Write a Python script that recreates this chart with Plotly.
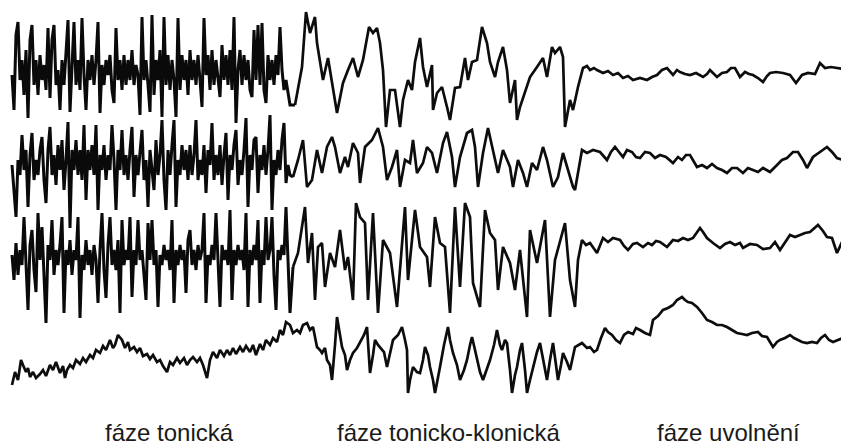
import plotly.graph_objects as go

# ---- sample positions (time axis, px-like units) ----
tonic_x = list(range(12, 292, 2))

# ---- trace 1 (top channel) ----
t1_tonic_y = [75,110,35,22,80,60,95,50,118,40,25,85,60,95,55,80,65,90,28,98,
              40,25,85,70,110,60,85,50,20,112,60,22,85,60,90,18,75,110,60,80,
              55,85,60,22,113,65,85,60,75,55,90,103,28,80,60,90,55,85,60,80,
              50,85,65,75,115,17,80,60,85,112,15,95,60,80,50,117,17,85,55,90,
              60,80,117,18,90,55,80,60,95,50,80,60,85,55,80,107,18,75,55,90,
              50,85,60,80,97,45,80,55,85,50,90,17,123,70,50,85,55,80,60,90,
              97,30,80,25,85,23,90,103,55,80,60,85,55,75,27,70,90,80,95,105]
t1_rest_x = [295,302,306,310,315,317,323,328,337,343,348,353,358,363,369,373,377,380,383,386,
             390,395,400,403,408,412,415,420,423,427,432,433,437,442,447,450,455,460,465,468,
             472,477,482,487,490,495,498,503,507,510,515,517,520,525,530,537,543,547,552,555,
             560,563,565,570,573,578,583,587,590,594,597,603,608,613,618,623,628,633,640,647,
             652,657,662,667,673,677,680,685,690,696,703,707,710,717,722,727,731,735,740,745,
             749,753,758,763,767,770,776,783,790,796,802,808,815,820,825,831,837,843,849]
t1_rest_y = [105,67,12,33,17,43,80,58,113,83,70,58,77,60,27,33,28,43,70,127,
             90,90,127,100,80,90,62,38,67,87,65,110,93,87,107,120,88,87,58,80,
             62,60,27,43,62,77,62,47,70,103,80,120,107,93,77,67,58,77,47,53,
             47,57,127,100,110,87,68,66,70,68,70,73,71,75,73,78,76,80,78,80,
             77,75,70,68,75,70,72,74,75,73,77,74,70,77,73,72,68,68,77,72,
             74,75,78,82,76,73,72,73,75,83,75,73,74,63,68,67,68,69,69]

# ---- trace 2 ----
t2_tonic_y = [165,195,217,160,175,135,170,150,207,155,133,180,160,175,150,137,180,203,150,127,
              175,155,185,145,170,140,190,160,122,228,150,170,140,175,150,180,125,200,150,170,
              145,175,125,210,155,170,145,180,155,170,125,160,210,150,170,130,175,155,180,150,
              127,197,155,175,150,130,180,160,207,150,170,190,140,175,155,120,180,210,150,175,
              145,120,207,160,175,145,170,150,180,145,175,155,120,180,160,175,145,193,150,165,
              123,180,155,175,145,185,155,133,200,155,170,145,130,185,160,175,150,118,207,155,
              170,140,137,193,155,170,145,175,150,115,210,160,175,150,170,140,123,183,165,175]
t2_rest_x = [293,298,303,307,312,317,322,327,332,335,340,345,348,353,358,360,365,372,378,383,
             387,392,397,400,405,410,413,417,423,427,432,437,443,447,452,455,460,467,472,475,
             478,483,488,493,498,503,510,513,518,523,527,532,537,543,547,553,558,563,568,573,
             575,578,582,587,593,600,607,611,615,619,623,627,632,636,640,645,650,655,660,666,
             673,678,682,686,690,697,702,707,712,717,722,727,732,737,743,748,753,758,763,770,
             777,782,787,793,798,803,807,813,820,827,832,837,843,849]
t2_rest_y = [177,160,140,187,180,150,173,147,137,147,173,157,167,143,153,183,147,140,128,147,
             180,167,150,187,160,163,140,173,163,147,153,173,143,132,157,187,157,133,130,147,
             187,153,128,150,173,150,167,187,160,173,187,163,170,147,160,187,177,153,170,187,
             190,173,150,153,150,152,160,152,147,152,157,150,152,157,158,152,153,158,155,157,
             163,157,160,155,155,167,165,168,164,168,170,173,168,168,173,168,170,172,168,172,
             165,160,158,152,152,160,168,157,152,147,152,158,160,163]

# ---- trace 3 ----
t3_tonic_y = [255,280,243,275,250,265,217,270,310,245,230,270,292,213,260,227,270,323,245,260,
              220,275,250,265,245,217,313,250,265,240,275,250,260,217,318,255,270,240,265,250,
              275,245,260,303,250,213,270,298,245,217,265,250,270,240,313,220,265,250,260,217,
              297,250,265,220,260,250,275,300,223,260,220,265,250,307,255,265,245,260,250,270,
              220,303,250,265,245,260,250,293,240,230,265,250,270,245,260,250,213,303,255,265,
              245,260,213,270,307,245,260,250,265,210,300,250,265,245,260,250,270,213,307,250,
              265,245,260,220,303,250,265,217,260,250,217,275,310,250,260,245,255,207,270,313]
t3_rest_x = [293,298,305,308,312,315,318,322,325,330,335,340,345,348,353,356,360,365,368,373,
             378,383,390,397,405,408,415,420,427,430,435,440,445,450,455,460,465,470,473,480,
             485,490,495,498,503,510,515,520,527,530,537,545,550,555,565,570,575,578,582,586,
             590,597,603,608,613,620,624,628,633,637,643,648,652,656,660,667,673,678,683,688,
             693,700,703,707,713,720,725,730,735,740,743,750,757,763,770,775,780,785,790,795,
             800,805,810,818,823,827,832,837,843,849]
t3_rest_y = [267,253,207,263,233,300,247,243,287,253,267,230,270,257,300,203,217,223,300,213,
             313,240,253,307,207,280,210,247,257,287,217,243,247,313,207,287,203,217,283,307,
             210,233,240,290,247,263,290,250,317,230,263,220,317,260,223,280,307,260,240,245,
             243,253,238,242,238,240,246,250,244,243,247,243,245,241,242,247,240,241,238,240,
             238,228,232,238,243,248,244,242,245,243,248,244,245,249,248,242,250,243,235,237,
             235,233,232,225,231,237,238,253,240,237]

# ---- trace 4 (bottom channel) ----
t4_x = [12,15,18,21,23,26,28,30,33,36,40,43,46,50,53,56,60,63,65,67,
        70,73,76,80,83,86,90,93,96,100,103,106,110,113,115,118,122,125,128,130,
        134,137,140,143,147,150,153,157,160,163,167,170,173,177,180,184,187,190,193,197,
        200,203,207,210,213,217,220,224,227,230,233,236,240,243,246,250,253,256,260,263,
        266,270,273,277,280,283,286,290,293,297,300,303,307,310,313,317,320,322,325,327,
        330,332,335,337,340,342,345,347,350,353,357,360,364,367,370,373,375,378,380,384,
        387,390,393,398,402,405,407,408,410,413,417,420,423,425,428,430,433,435,438,440,
        444,448,450,453,457,460,464,467,470,472,475,477,480,483,487,490,494,497,500,502,
        505,507,510,512,515,517,520,522,525,527,530,533,537,540,544,547,550,553,556,558,
        561,563,567,570,575,582,587,590,594,597,601,605,608,612,616,620,624,628,633,636,
        640,645,650,653,658,663,668,673,677,682,685,688,692,697,702,707,712,717,722,727,
        732,737,742,747,752,758,762,767,770,773,777,780,785,790,794,798,802,807,812,817,
        821,825,829,833,838,843,846,849]
t4_y = [385,372,380,360,365,372,368,377,372,378,374,370,376,365,370,362,373,366,378,370,
        365,368,360,364,358,362,355,358,350,353,346,350,340,348,345,335,340,348,342,350,
        347,352,348,356,354,359,355,362,360,366,372,362,365,358,363,358,365,360,357,362,
        358,365,378,360,352,358,350,356,350,355,348,354,347,352,346,352,345,355,344,350,
        340,345,338,342,330,335,322,325,333,330,333,325,323,330,327,347,350,353,348,360,
        365,380,345,317,335,347,355,370,360,353,348,343,335,327,373,355,340,345,347,352,
        367,355,340,335,327,340,350,393,380,367,372,373,360,347,355,367,380,393,375,367,
        345,327,340,353,365,380,370,360,345,337,350,360,372,380,368,360,345,330,345,350,
        340,343,370,393,375,367,350,343,370,393,380,367,352,343,365,380,360,343,365,380,
        365,353,362,370,347,343,348,347,352,350,338,328,332,335,340,343,335,332,334,328,
        330,333,335,320,316,310,308,305,300,297,300,302,303,307,313,320,322,325,325,327,
        330,333,334,335,333,332,336,337,342,347,342,340,338,335,338,340,342,343,342,343,
        338,335,340,342,340,338,335,333]

# ---- phase labels ----
phase_labels = ["fáze tonická", "fáze tonicko-klonická", "fáze uvolnění"]
phase_label_x = [169, 448, 728]
label_y = 432

# page body has an 8px margin: shift the axis ranges so data units == window pixels
PAGE_OFFSET = 8

fig = go.Figure()
channels = [
    (t1_tonic_y, t1_rest_x, t1_rest_y),
    (t2_tonic_y, t2_rest_x, t2_rest_y),
    (t3_tonic_y, t3_rest_x, t3_rest_y),
]
for ty, rx, ry in channels:
    # dense tonic part (slightly heavier ink), joined to the rest
    fig.add_trace(go.Scatter(x=tonic_x + rx[:1], y=ty + ry[:1], mode="lines",
                             line=dict(color="#0a0a0a", width=3.0),
                             hoverinfo="skip", showlegend=False))
    fig.add_trace(go.Scatter(x=rx, y=ry, mode="lines",
                             line=dict(color="#0d0d0d", width=2.7),
                             hoverinfo="skip", showlegend=False))
fig.add_trace(go.Scatter(x=t4_x, y=t4_y, mode="lines",
                         line=dict(color="#0d0d0d", width=2.7),
                         hoverinfo="skip", showlegend=False))

for txt, lx in zip(phase_labels, phase_label_x):
    fig.add_annotation(x=lx, y=label_y, text=txt, showarrow=False,
                       xanchor="center", yanchor="middle",
                       font=dict(family="Liberation Sans, Arial", size=24, color="#1a1a1a"))

fig.update_layout(
    width=849, height=448,
    margin=dict(l=0, r=0, t=0, b=0),
    paper_bgcolor="white", plot_bgcolor="white",
    xaxis=dict(range=[PAGE_OFFSET, 849 + PAGE_OFFSET], visible=False, fixedrange=True),
    yaxis=dict(range=[448 + PAGE_OFFSET, PAGE_OFFSET], visible=False, fixedrange=True),
)

fig.write_html("out.html")
